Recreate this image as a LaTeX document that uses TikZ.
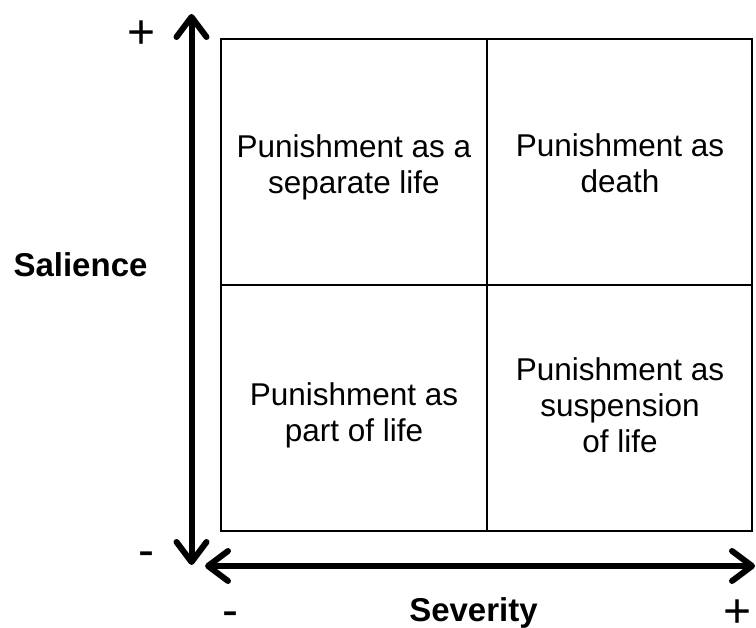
\documentclass[tikz,border=0pt]{standalone}
\usepackage{fontspec}
\setmainfont{Liberation Sans}
\usetikzlibrary{arrows.meta}
\tikzset{quadrant/.style={align=center, inner sep=0pt, font=\fontsize{31.5}{36}\selectfont}}

\begin{document}
\begin{tikzpicture}[x=1pt, y=-1pt]
\tikzstyle{axislabel} = [inner sep=0pt, font=\fontsize{33}{36}\selectfont\bfseries]
\tikzstyle{sign} = [inner sep=0pt, font=\fontsize{48}{50}\selectfont]
\tikzstyle{barb} = [line width=6pt, {Straight Barb[length=20pt,width=30pt,round]}-{Straight Barb[length=20pt,width=30pt,round]}]
\tikzstyle{cell} = [line width=2pt]

\useasboundingbox (0,0) rectangle (756,628);

% quadrant grid
\coordinate (nw) at (221,39);
\coordinate (se) at (752,531);
\coordinate (ntop) at (486.5,39);
\coordinate (nbot) at (486.5,531);
\coordinate (wmid) at (221,285);
\coordinate (emid) at (752,285);
\draw [cell] (nw) rectangle (se);
\draw [cell] (ntop) -- (nbot);
\draw [cell] (wmid) -- (emid);

\node (sepLife) [quadrant] at (354,167) {Punishment as a\\separate life};
\node (death) [quadrant] at (620,163.5) {Punishment as\\death};
\node (partLife) [quadrant] at (354,415) {Punishment as\\part of life};
\node (suspLife) [quadrant] at (620,405.5) {Punishment as\\suspension\\of life};

% axes
\coordinate (ytop) at (191.5,14);
\coordinate (ybot) at (191.5,565);
\coordinate (xleft) at (205,566);
\coordinate (xright) at (755,566);
\draw [barb] (ybot) -- (ytop);
\draw [barb] (xleft) -- (xright);

\node (salience) [axislabel] at (80.5,265) {Salience};
\node (severity) [axislabel] at (473.5,613) {Severity};
\node (yplus) [sign] at (141.5,35) {+};
\node (yminus) [sign] at (146,559.5) {-};
\node (xminus) [sign] at (230,619) {-};
\node (xplus) [sign] at (738,614) {+};

\end{tikzpicture}
\end{document}
